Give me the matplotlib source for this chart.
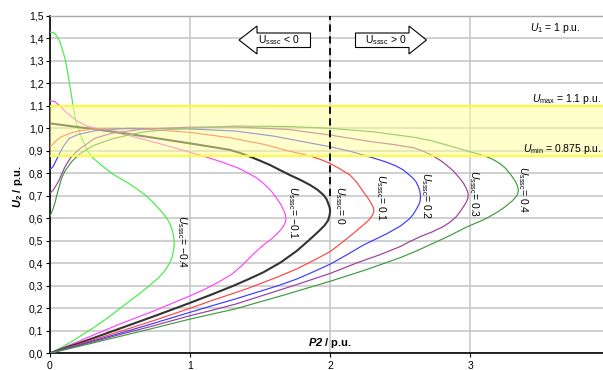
import matplotlib
matplotlib.use('Agg')
import matplotlib.pyplot as plt
from matplotlib.patches import Polygon

plt.rcParams['font.family'] = ['Liberation Sans', 'DejaVu Sans']
plt.rcParams['mathtext.fontset'] = 'custom'
plt.rcParams['mathtext.rm'] = 'Liberation Sans'
plt.rcParams['mathtext.it'] = 'Liberation Sans:italic'
plt.rcParams['mathtext.bf'] = 'Liberation Sans:bold'
plt.rcParams['mathtext.sf'] = 'Liberation Sans:bold:italic'

# ---------------- data ----------------
# Usssc = -0.4
p_m04 = [0, 0.015, 0.037, 0.055, 0.073, 0.09, 0.109, 0.122, 0.133, 0.145, 0.157, 0.168, 0.18,
         0.19, 0.204, 0.225, 0.252, 0.28, 0.311, 0.38, 0.442, 0.5, 0.561, 0.62, 0.68, 0.73,
         0.775, 0.80, 0.823, 0.845, 0.862, 0.875, 0.884, 0.888, 0.886, 0.878, 0.865, 0.855,
         0.82, 0.775, 0.70, 0.62, 0.513, 0.42, 0.323, 0.24, 0.157, 0.08, 0]
u_m04 = [1.427, 1.427, 1.422, 1.405, 1.385, 1.35, 1.311, 1.27, 1.229, 1.185, 1.14, 1.096, 1.052,
         1.022, 1.0, 0.96, 0.926, 0.89, 0.867, 0.83, 0.80, 0.778, 0.756, 0.732, 0.704, 0.676,
         0.645, 0.628, 0.61, 0.59, 0.568, 0.545, 0.52, 0.495, 0.47, 0.44, 0.415, 0.40,
         0.365, 0.335, 0.295, 0.255, 0.205, 0.16, 0.118, 0.085, 0.052, 0.025, 0]
# Usssc = -0.1
p_m01 = [0, 0.038, 0.073, 0.121, 0.193, 0.264, 0.359, 0.597, 0.835, 1.072, 1.18, 1.286, 1.35,
         1.405, 1.47, 1.524, 1.575, 1.619, 1.645, 1.665, 1.68, 1.685, 1.682, 1.672, 1.65, 1.62,
         1.575, 1.524, 1.45, 1.38, 1.30, 1.2, 1.1, 1.0, 0.75, 0.5, 0.25, 0]
u_m01 = [1.123, 1.118, 1.099, 1.069, 1.034, 1.01, 0.996, 0.963, 0.923, 0.881, 0.86, 0.837, 0.822,
         0.804, 0.782, 0.756, 0.725, 0.689, 0.665, 0.64, 0.62, 0.60, 0.585, 0.57, 0.55, 0.53,
         0.505, 0.481, 0.44, 0.395, 0.352, 0.315, 0.283, 0.255, 0.19, 0.13, 0.065, 0]
# Usssc = 0
p_0 = [0, 0.5, 1.0, 1.15, 1.286, 1.36, 1.429, 1.5, 1.571, 1.64, 1.714, 1.79, 1.857, 1.91,
       1.952, 1.975, 1.99, 1.998, 2.0, 1.995, 1.985, 1.96, 1.928, 1.88, 1.83, 1.762, 1.65,
       1.524, 1.42, 1.31, 1.15, 1.0, 0.75, 0.5, 0.25, 0]
u_0 = [1.022, 0.981, 0.933, 0.918, 0.904, 0.89, 0.874, 0.856, 0.837, 0.815, 0.792, 0.77, 0.748,
       0.727, 0.704, 0.685, 0.66, 0.645, 0.63, 0.61, 0.59, 0.568, 0.548, 0.52, 0.492, 0.455,
       0.405, 0.36, 0.33, 0.30, 0.26, 0.224, 0.166, 0.11, 0.054, 0]
# Usssc = 0.1
p_01 = [0, 0.015, 0.03, 0.055, 0.085, 0.14, 0.204, 0.3, 0.442, 0.7, 1.0, 1.286, 1.524, 1.70,
        1.857, 1.93, 2.0, 2.07, 2.142, 2.19, 2.237, 2.27, 2.295, 2.31, 2.312, 2.30, 2.28, 2.255,
        2.22, 2.17, 2.12, 2.06, 2.0, 1.88, 1.762, 1.64, 1.524, 1.42, 1.322, 1.15, 1.0, 0.75,
        0.5, 0.25, 0]
u_01 = [0.916, 0.925, 0.935, 0.95, 0.963, 0.977, 0.988, 0.996, 1.0, 0.995, 0.982, 0.958, 0.929,
        0.90, 0.877, 0.862, 0.844, 0.82, 0.792, 0.76, 0.718, 0.69, 0.665, 0.645, 0.63, 0.612,
        0.595, 0.58, 0.562, 0.535, 0.51, 0.48, 0.452, 0.412, 0.375, 0.343, 0.315, 0.29, 0.269,
        0.233, 0.20, 0.147, 0.097, 0.048, 0]
# Usssc = 0.2
p_02 = [0, 0.024, 0.059, 0.095, 0.14, 0.204, 0.323, 0.561, 1.0, 1.322, 1.6, 2.0, 2.13, 2.261,
        2.33, 2.4, 2.465, 2.522, 2.592, 2.615, 2.63, 2.64, 2.645, 2.643, 2.635, 2.615, 2.595,
        2.57, 2.535, 2.50, 2.40, 2.3, 2.237, 2.12, 2.0, 1.88, 1.762, 1.64, 1.524, 1.42, 1.322,
        1.15, 1.0, 0.75, 0.5, 0.25, 0]
u_02 = [0.815, 0.83, 0.874, 0.918, 0.955, 0.973, 0.989, 1.0, 0.997, 0.988, 0.965, 0.918, 0.90,
        0.877, 0.864, 0.85, 0.834, 0.815, 0.778, 0.76, 0.74, 0.72, 0.70, 0.68, 0.663, 0.64,
        0.62, 0.60, 0.582, 0.565, 0.53, 0.50, 0.481, 0.438, 0.396, 0.362, 0.33, 0.303, 0.28,
        0.26, 0.241, 0.21, 0.182, 0.135, 0.089, 0.044, 0]
# Usssc = 0.3
p_03 = [0, 0.025, 0.062, 0.109, 0.15, 0.204, 0.323, 0.442, 0.68, 1.0, 1.322, 1.7, 2.0, 2.3,
        2.45, 2.60, 2.67, 2.734, 2.785, 2.829, 2.88, 2.924, 2.95, 2.968, 2.98, 2.985, 2.982,
        2.972, 2.955, 2.93, 2.9, 2.86, 2.807, 2.73, 2.641, 2.57, 2.499, 2.35, 2.2, 2.0, 1.76,
        1.524, 1.322, 1.15, 1.0, 0.75, 0.5, 0.25, 0]
u_03 = [0.711, 0.725, 0.763, 0.829, 0.87, 0.904, 0.956, 0.978, 0.997, 1.005, 1.006, 0.995, 0.97,
        0.94, 0.928, 0.913, 0.897, 0.877, 0.858, 0.837, 0.81, 0.778, 0.757, 0.737, 0.72, 0.705,
        0.688, 0.672, 0.655, 0.632, 0.607, 0.585, 0.563, 0.54, 0.518, 0.497, 0.474, 0.437,
        0.404, 0.355, 0.305, 0.258, 0.218, 0.19, 0.167, 0.124, 0.083, 0.041, 0]
# Usssc = 0.4
p_04 = [0, 0.01, 0.025, 0.038, 0.05, 0.065, 0.085, 0.105, 0.12, 0.157, 0.204, 0.26, 0.323, 0.442,
        0.56, 0.68, 0.85, 1.0, 1.322, 1.7, 2.0, 2.3, 2.6, 2.72, 2.829, 2.91, 2.995, 3.05, 3.103,
        3.16, 3.21, 3.25, 3.281, 3.305, 3.325, 3.337, 3.343, 3.338, 3.325, 3.30, 3.25, 3.20,
        3.15, 3.10, 2.97, 2.85, 2.736, 2.62, 2.5, 2.25, 2.0, 1.66, 1.322, 1.15, 1.0, 0.75, 0.5,
        0.25, 0]
u_04 = [0.607, 0.62, 0.645, 0.67, 0.70, 0.735, 0.778, 0.805, 0.82, 0.852, 0.881, 0.905, 0.926,
        0.952, 0.97, 0.985, 0.994, 1.0, 1.01, 1.008, 1.0, 0.985, 0.96, 0.945, 0.926, 0.912,
        0.896, 0.887, 0.877, 0.862, 0.844, 0.823, 0.80, 0.78, 0.76, 0.742, 0.725, 0.708, 0.695,
        0.678, 0.652, 0.63, 0.612, 0.595, 0.56, 0.522, 0.489, 0.456, 0.425, 0.37, 0.32, 0.257,
        0.197, 0.173, 0.152, 0.113, 0.075, 0.037, 0]

curve_labels = ['\u22120.4', '\u22120.1', '0', '0.1', '0.2', '0.3', '0.4']
curve_colors = ['#44ee44', '#ff44ff', '#333333', '#ff4444', '#3b3bff', '#9c3c9c', '#3c9c3c']
label_pos_p = [0.944, 1.736, 2.07, 2.363, 2.684, 3.026, 3.376]
label_pos_u = [0.495, 0.623, 0.658, 0.694, 0.703, 0.708, 0.726]

u_min, u_max = 0.875, 1.1
divider_p = 2.0
divider_u = [0.70, 1.5]

y_ticks = [0.0, 0.1, 0.2, 0.3, 0.4, 0.5, 0.6, 0.7, 0.8, 0.9, 1.0, 1.1, 1.2, 1.3, 1.4, 1.5]
y_tick_labels = ['0,0', '0,1', '0,2', '0,3', '0,4', '0,5', '0,6', '0,7', '0,8', '0,9',
                 '1,0', '1,1', '1,2', '1,3', '1,4', '1,5']
x_ticks = [0, 1, 2, 3]
x_tick_labels = ['0', '1', '2', '3']

# ---------------- figure ----------------
W, H = 603, 370
fig = plt.figure(figsize=(W / 100, H / 100), dpi=100)
ax = fig.add_axes([49.7 / W, 16.7 / H, (603.5 - 49.7) / W, 337.5 / H])
ax.set_xlim(0, 3.95)
ax.set_ylim(0, 1.5)

series = [(p_m04, u_m04), (p_m01, u_m01), (p_0, u_0), (p_01, u_01),
          (p_02, u_02), (p_03, u_03), (p_04, u_04)]
for i, (pp, uu) in enumerate(series):
    lw = 1.5 if curve_labels[i] == '0' else 0.85
    ax.plot(pp, uu, color=curve_colors[i], lw=lw, zorder=3, solid_joinstyle='round')

# permitted voltage band (drawn over the curves, semi-transparent)
ax.axhspan(u_min, u_max, color='#ffff99', alpha=0.5, lw=0, zorder=4)
ax.axhline(u_min, color='#ffff22', lw=1.3, zorder=4.5)
ax.axhline(u_max, color='#ffff22', lw=1.3, zorder=4.5)

# dashed divider
ax.plot([divider_p, divider_p], divider_u, color='black', lw=1.3, ls=(0, (4, 2.5)), zorder=6)

# curve labels
for i in range(len(curve_labels)):
    ax.text(label_pos_p[i], label_pos_u[i],
            r'$\mathit{U}_{\mathrm{sssc}}$= ' + curve_labels[i],
            rotation=-90, ha='center', va='center', fontsize=7.5, zorder=7)

# ticks / grid / spines
ax.set_yticks(y_ticks)
ax.set_yticklabels(y_tick_labels)
ax.set_xticks(x_ticks)
ax.set_xticklabels(x_tick_labels)
ax.tick_params(axis='y', direction='out', length=3, width=0.8, pad=1.5, labelsize=7.5)
ax.tick_params(axis='x', direction='out', length=3, width=0.8, pad=2.5, labelsize=7.5)
ax.set_axisbelow(True)
ax.yaxis.grid(True, color='#c8c8c8', lw=1.2)
ax.xaxis.grid(True, color='#d2d2d2', lw=1.4)
for s in ('left', 'bottom'):
    ax.spines[s].set_color('black')
    ax.spines[s].set_linewidth(1.2)
ax.spines['top'].set_color('#a8a8a8')
ax.spines['top'].set_linewidth(1.0)
ax.spines['right'].set_visible(False)


def fx(x):
    return x / W


def fy(y):
    return 1 - y / H


# axis titles
fig.text(fx(18), fy(186), r'$\mathsf{U}_{\mathbf{2}}$ / p.u.', rotation=90,
         fontweight='bold', fontsize=8, ha='center', va='center')
fig.text(fx(330), fy(343), r'$\mathsf{P2}$ / p.u.', fontweight='bold', fontsize=8,
         ha='center', va='center')

# annotations on the right
fig.text(fx(530), fy(28), r'$\mathit{U}_{1}$ = 1 p.u.', fontsize=7.5, ha='left', va='center')
fig.text(fx(532), fy(99), r'$\mathit{U}_{\mathrm{max}}$ = 1.1 p.u.', fontsize=7.5,
         ha='left', va='center')
fig.text(fx(523), fy(149), r'$\mathit{U}_{\mathrm{min}}$ = 0.875 p.u.', fontsize=7.5,
         ha='left', va='center')

# block arrows
left_arrow = [(239, 40), (257, 26), (257, 33), (310.5, 33), (310.5, 47.5), (257, 47.5), (257, 54)]
right_arrow = [(426.5, 40), (409, 26), (409, 33), (355.5, 33), (355.5, 47.5), (409, 47.5), (409, 54)]
for poly in (left_arrow, right_arrow):
    fig.patches.append(Polygon([(fx(x), fy(y)) for x, y in poly], closed=True,
                               transform=fig.transFigure, facecolor='white',
                               edgecolor='black', lw=0.8, zorder=5))
fig.text(fx(279), fy(40), r'$\mathrm{U}_{\mathrm{sssc}}$ < 0', fontsize=7.5,
         ha='center', va='center', zorder=6)
fig.text(fx(386), fy(40), r'$\mathrm{U}_{\mathrm{sssc}}$ > 0', fontsize=7.5,
         ha='center', va='center', zorder=6)

fig.savefig('out.png', dpi=100)
